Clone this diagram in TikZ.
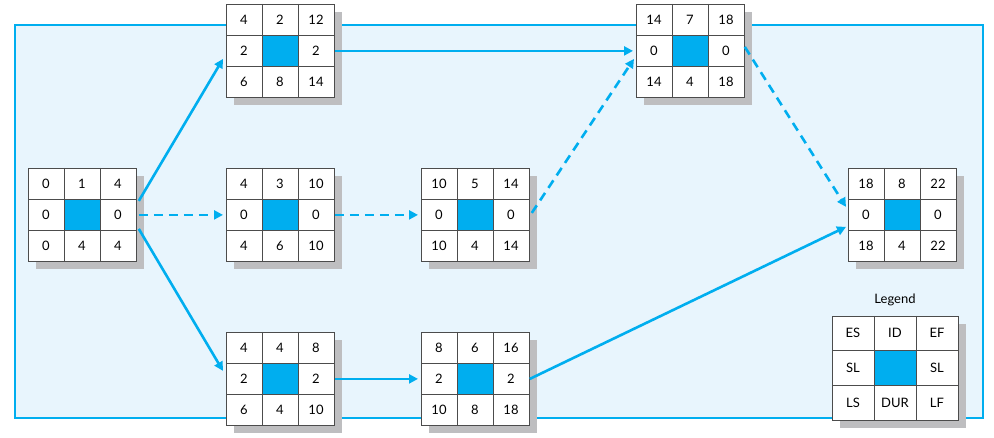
\documentclass[tikz,border=0pt]{standalone}
\usepackage{fontspec}
\setmainfont{Lato}
\usetikzlibrary{arrows.meta,calc}
\definecolor{cblue}{RGB}{0,174,239}
\definecolor{bgblue}{RGB}{232,245,253}
\definecolor{shad}{RGB}{190,190,192}
\tikzset{
 box/.style={draw=black!70,line width=0.8pt,fill=white,minimum width=108pt,minimum height=93pt,inner sep=0pt},
 cell/.style={font=\fontsize{13}{13}\selectfont,inner sep=0pt},
 arr/.style={cblue,line width=2.6pt,-{Triangle[length=9pt,width=9pt]}},
 darr/.style={arr,dash pattern=on 9pt off 6pt},
}
\newcommand\cpm[9]{%
 \fill[shad] ($(#1c)+(8,8)$) rectangle +(108,93);
 \node[box,anchor=north west] (#1) at (#1c) {};
 \fill[cblue] ($(#1c)+(36,31)$) rectangle +(36,31);
 \draw[black!70,line width=0.8pt] ($(#1c)+(36,0)$) -- +(0,93) ($(#1c)+(72,0)$) -- +(0,93)
   ($(#1c)+(0,31)$) -- +(108,0) ($(#1c)+(0,62)$) -- +(108,0);
 \node[cell] (#1a) at ($(#1c)+(18,15.5)$) {#2};
 \node[cell] (#1b) at ($(#1c)+(54,15.5)$) {#3};
 \node[cell] (#1d) at ($(#1c)+(90,15.5)$) {#4};
 \node[cell] (#1e) at ($(#1c)+(18,46.5)$) {#5};
 \node[cell] (#1f) at ($(#1c)+(90,46.5)$) {#6};
 \node[cell] (#1g) at ($(#1c)+(18,77.5)$) {#7};
 \node[cell] (#1h) at ($(#1c)+(54,77.5)$) {#8};
 \node[cell] (#1i) at ($(#1c)+(90,77.5)$) {#9};
}
\begin{document}
\begin{tikzpicture}[x=1pt,y=-1pt]
\useasboundingbox (0,0) rectangle (994,438);
\draw[cblue,line width=1.2pt,fill=bgblue] (15,25) rectangle (983,418);
\coordinate (Ac) at (28,168);
\coordinate (Bc) at (226,4);
\coordinate (Cc) at (226,168);
\coordinate (Dc) at (226,332);
\coordinate (Ec) at (421,168);
\coordinate (Fc) at (421,332);
\coordinate (Gc) at (636,4);
\coordinate (Hc) at (848,168);
\cpm{A}{0}{1}{4}{0}{0}{0}{4}{4}
\cpm{B}{4}{2}{12}{2}{2}{6}{8}{14}
\cpm{C}{4}{3}{10}{0}{0}{4}{6}{10}
\cpm{D}{4}{4}{8}{2}{2}{6}{4}{10}
\cpm{E}{10}{5}{14}{0}{0}{10}{4}{14}
\cpm{F}{8}{6}{16}{2}{2}{10}{8}{18}
\cpm{G}{14}{7}{18}{0}{0}{14}{4}{18}
\cpm{H}{18}{8}{22}{0}{0}{18}{4}{22}
% legend
\node[cell] (legt) at (895,300) {Legend};
\fill[shad] (840,324) rectangle +(126,104);
\node[draw=black!70,line width=0.8pt,fill=white,minimum width=126pt,minimum height=104pt,inner sep=0pt,anchor=north west] (L) at (832,316) {};
\fill[cblue] (874,350.7) rectangle +(42,34.7);
\draw[black!70,line width=0.8pt] (874,316) -- (874,420) (916,316) -- (916,420) (832,350.7) -- (958,350.7) (832,385.3) -- (958,385.3);
\node[cell] (L1) at (853,333.3) {ES};
\node[cell] (L2) at (895,333.3) {ID};
\node[cell] (L3) at (937,333.3) {EF};
\node[cell] (L4) at (853,368) {SL};
\node[cell] (L5) at (937,368) {SL};
\node[cell] (L6) at (853,402.7) {LS};
\node[cell] (L7) at (895,402.7) {DUR};
\node[cell] (L8) at (937,402.7) {LF};
% arrows
\draw[arr] ([yshift=14pt,xshift=2pt]A.east) -- ([yshift=-8pt,xshift=-3pt]B.west);
\draw[darr] ([xshift=2pt]A.east) -- ([xshift=-3pt]C.west);
\draw[arr] ([yshift=-14pt,xshift=2pt]A.east) -- ([yshift=8pt,xshift=-3pt]D.west);
\draw[arr] (B.east) -- ([xshift=-3pt]G.west);
\draw[darr] (C.east) -- ([xshift=-3pt]E.west);
\draw[darr] ([yshift=2pt,xshift=2pt]E.east) -- ([yshift=-8pt,xshift=-2pt]G.west);
\draw[arr] (D.east) -- ([xshift=-3pt]F.west);
\draw[arr] (F.east) -- ([yshift=-12pt,xshift=-2pt]H.west);
\draw[darr] ([yshift=4pt]G.east) -- ([yshift=8pt,xshift=-2pt]H.west);
\end{tikzpicture}
\end{document}
